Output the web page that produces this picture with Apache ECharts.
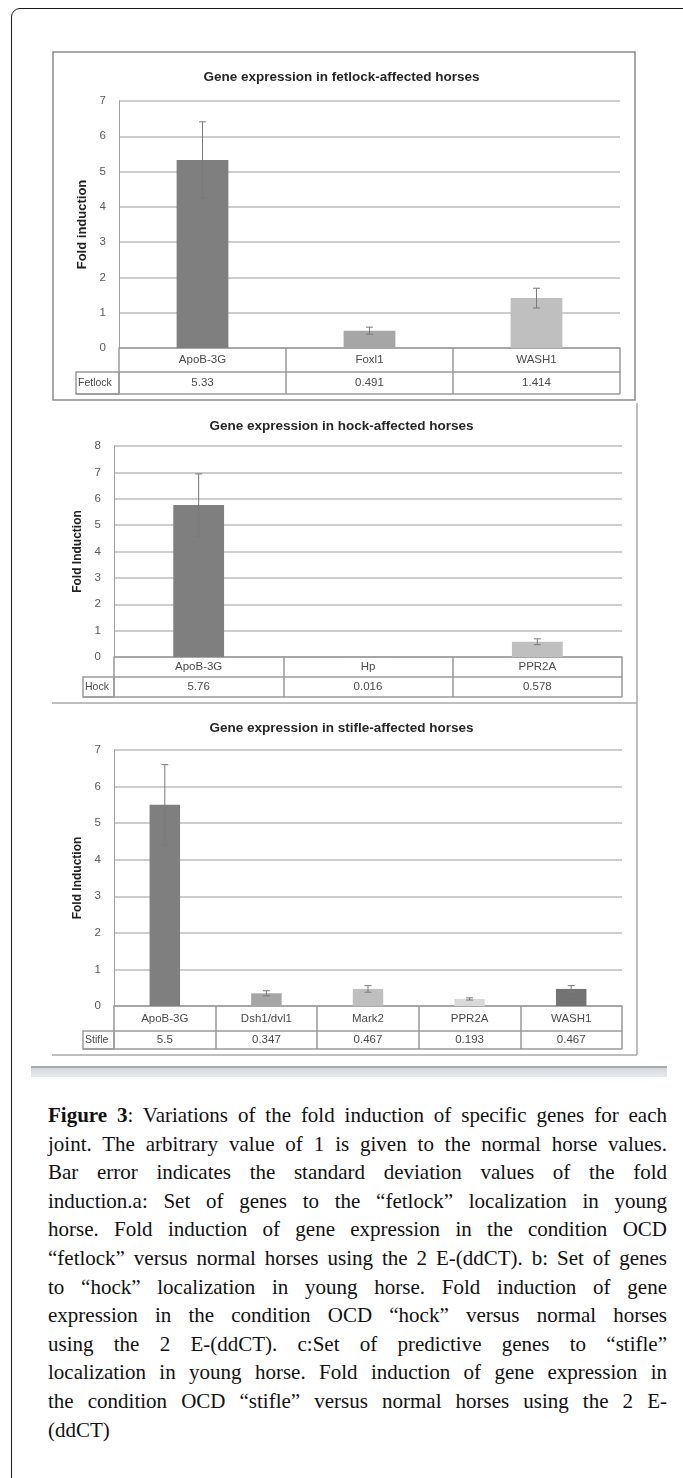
<!DOCTYPE html>
<html><head><meta charset="utf-8">
<script src="https://cdn.jsdelivr.net/npm/echarts@6/dist/echarts.min.js"></script>
<style>
html,body{margin:0;padding:0;width:683px;height:1478px;overflow:hidden;background:#fff;}
#frame{position:absolute;left:11px;top:8px;width:720px;height:1520px;border:1.5px solid #1a1a1a;border-radius:9px;box-sizing:border-box;}
#chart{position:absolute;left:0;top:0;width:683px;height:1090px;}
#sep{position:absolute;left:31px;top:1066px;width:636px;height:9px;border-top:2px solid #a9a9a9;background:linear-gradient(#d3d7dc,#e8eaed);}
#caption{position:absolute;left:48px;top:1101px;width:619px;font-family:"Liberation Serif","Times New Roman",serif;font-size:21px;line-height:28.6px;color:#111;}
#caption .l{text-align:justify;text-align-last:justify;white-space:nowrap;}
#caption .last{text-align:left;}
</style></head>
<body>
<div id="frame"></div>
<div id="chart"></div>
<div id="sep"></div>
<div id="caption">
<div class="l"><b>Figure 3</b>: Variations of the fold induction of specific genes for each</div>
<div class="l">joint. The arbitrary value of 1 is given to the normal horse values.</div>
<div class="l">Bar error indicates the standard deviation values of the fold</div>
<div class="l">induction.a: Set of genes to the “fetlock” localization in young</div>
<div class="l">horse. Fold induction of gene expression in the condition OCD</div>
<div class="l">“fetlock” versus normal horses using the 2 E-(ddCT). b: Set of genes</div>
<div class="l">to “hock” localization in young horse. Fold induction of gene</div>
<div class="l">expression in the condition OCD “hock” versus normal horses</div>
<div class="l">using the 2 E-(ddCT). c:Set of predictive genes to “stifle”</div>
<div class="l">localization in young horse. Fold induction of gene expression in</div>
<div class="l">the condition OCD “stifle” versus normal horses using the 2 E-</div>
<div class="last">(ddCT)</div>
</div>
<script>
// ---- data ----
const fetlockGenes = ['ApoB-3G', 'Foxl1', 'WASH1'];
const fetlockValues = [5.33, 0.491, 1.414];
const fetlockErrors = [1.08, 0.10, 0.28];

const hockGenes = ['ApoB-3G', 'Hp', 'PPR2A'];
const hockValues = [5.76, 0.016, 0.578];
const hockErrors = [1.18, 0, 0.11];

const stifleGenes = ['ApoB-3G', 'Dsh1/dvl1', 'Mark2', 'PPR2A', 'WASH1'];
const stifleValues = [5.5, 0.347, 0.467, 0.193, 0.467];
const stifleErrors = [1.10, 0.07, 0.09, 0.03, 0.09];

const titles = ['Gene expression in fetlock-affected horses', 'Gene expression in hock-affected horses', 'Gene expression in stifle-affected horses'];
const rowNames = ['Fetlock', 'Hock', 'Stifle'];
const yNames = ['Fold induction', 'Fold Induction', 'Fold Induction'];
const yMax = [7, 8, 7];

// ---- layout / style ----
const panels = [
  {genes: fetlockGenes, values: fetlockValues, errors: fetlockErrors,
   colors: ['#7f7f7f', '#a6a6a6', '#bfbfbf'],
   left: 119, right: 620, top: 101, bottom: 348, row1: 24, row2: 22, cellLeft: 76,
   titleTop: 65, nameGap: 30, nameSize: 13, barWidth: '31%'},
  {genes: hockGenes, values: hockValues, errors: hockErrors,
   colors: ['#7f7f7f', '#a6a6a6', '#bfbfbf'],
   left: 114, right: 622, top: 446, bottom: 657, row1: 20, row2: 20, cellLeft: 83,
   titleTop: 414, nameGap: 30, nameSize: 12, barWidth: '30%'},
  {genes: stifleGenes, values: stifleValues, errors: stifleErrors,
   colors: ['#7f7f7f', '#a6a6a6', '#bfbfbf', '#d9d9d9', '#737373'],
   left: 114, right: 622, top: 750, bottom: 1006, row1: 25, row2: 18, cellLeft: 83,
   titleTop: 716, nameGap: 30, nameSize: 12, barWidth: '30%'}
];
const FONT = '"Liberation Sans", Arial, sans-serif';
const tableColor = '#9a9a9a';

const option = {
  animation: false,
  backgroundColor: 'transparent',
  title: [], grid: [], xAxis: [], yAxis: [], series: [], graphic: []
};

panels.forEach((p, i) => {
  option.title.push({
    text: titles[i], left: 'center', top: p.titleTop,
    textStyle: {fontFamily: FONT, fontSize: 13.5, fontWeight: 'bold', color: '#262626'}
  });
  option.grid.push({left: p.left, width: p.right - p.left, top: p.top, height: p.bottom - p.top});
  option.xAxis.push({
    type: 'category', gridIndex: i, data: p.genes,
    axisLine: {show: true, lineStyle: {color: tableColor, width: 1.5}},
    axisTick: {show: true, interval: 0, length: p.row1 + p.row2, lineStyle: {color: tableColor, width: 1.5}},
    axisLabel: {interval: 0, margin: Math.round((p.row1 - 12) / 2), fontFamily: FONT, fontSize: 11.5, color: '#4a4a4a'},
    splitLine: {show: false}
  });
  option.xAxis.push({
    type: 'category', gridIndex: i, position: 'bottom', offset: p.row1,
    data: p.values.map(v => String(v)),
    axisLine: {show: true, lineStyle: {color: tableColor, width: 1.5}},
    axisTick: {show: false},
    axisLabel: {interval: 0, margin: Math.round((p.row2 - 12) / 2), fontFamily: FONT, fontSize: 11.5, color: '#4a4a4a'},
    splitLine: {show: false}
  });
  option.yAxis.push({
    type: 'value', gridIndex: i, min: 0, max: yMax[i], interval: 1,
    name: yNames[i], nameLocation: 'middle', nameGap: p.nameGap,
    nameTextStyle: {fontFamily: FONT, fontSize: p.nameSize, fontWeight: 'bold', color: '#222'},
    axisLine: {show: true, lineStyle: {color: '#a0a0a0', width: 1}},
    axisTick: {show: false},
    axisLabel: {margin: 13, fontFamily: FONT, fontSize: 11.5, color: '#595959'},
    splitLine: {show: true, lineStyle: {color: '#bdbdbd', width: 1.6}}
  });
  option.series.push({
    type: 'bar', xAxisIndex: 2 * i, yAxisIndex: i, barWidth: p.barWidth,
    data: p.values.map((v, j) => ({value: v, itemStyle: {color: p.colors[j]}})),
    z: 2
  });
  option.series.push({
    type: 'custom', xAxisIndex: 2 * i, yAxisIndex: i, z: 5,
    data: p.values.map((v, j) => [j, v, p.errors[j]]),
    encode: {x: 0, y: 1},
    renderItem: function (params, api) {
      const x = api.value(0), v = api.value(1), e = api.value(2);
      if (!e) return null;
      const t = api.coord([x, v + e]), b = api.coord([x, v - e]);
      const cw = 3.5;
      const st = {stroke: '#7a7a7a', lineWidth: 1};
      return {type: 'group', children: [
        {type: 'line', shape: {x1: t[0], y1: t[1], x2: b[0], y2: b[1]}, style: st},
        {type: 'line', shape: {x1: t[0] - cw, y1: t[1], x2: t[0] + cw, y2: t[1]}, style: st},
        {type: 'line', shape: {x1: b[0] - cw, y1: b[1], x2: b[0] + cw, y2: b[1]}, style: st}
      ]};
    }
  });
  // table: left row-name cell and bottom line of value row
  const r1b = p.bottom + p.row1, r2b = p.bottom + p.row1 + p.row2;
  option.graphic.push({
    type: 'rect', shape: {x: p.cellLeft, y: r1b, width: p.left - p.cellLeft, height: p.row2},
    style: {fill: 'none', stroke: tableColor, lineWidth: 1.5}, silent: true
  });
  option.graphic.push({
    type: 'line', shape: {x1: p.cellLeft, y1: r2b, x2: p.right, y2: r2b},
    style: {stroke: tableColor, lineWidth: 1.5}, silent: true
  });
  option.graphic.push({
    type: 'text', x: p.cellLeft + 2, y: r1b + p.row2 / 2,
    style: {text: rowNames[i], fontFamily: FONT, fontSize: 10.5, fill: '#4a4a4a', verticalAlign: 'middle', align: 'left'},
    silent: true
  });
});

// panel borders
const borderDark = '#8c8c8c', borderLight = '#a8a8a8';
option.graphic.push(
  {type: 'rect', shape: {x: 53, y: 52, width: 582, height: 348}, style: {fill: 'none', stroke: borderDark, lineWidth: 1.5}, silent: true},
  {type: 'line', shape: {x1: 637, y1: 403, x2: 637, y2: 703}, style: {stroke: borderLight, lineWidth: 1.5}, silent: true},
  {type: 'line', shape: {x1: 52, y1: 703, x2: 637, y2: 703}, style: {stroke: borderLight, lineWidth: 1.5}, silent: true},
  {type: 'line', shape: {x1: 637, y1: 703, x2: 637, y2: 1055}, style: {stroke: borderLight, lineWidth: 1.5}, silent: true},
  {type: 'line', shape: {x1: 52, y1: 1055, x2: 637, y2: 1055}, style: {stroke: borderLight, lineWidth: 1.5}, silent: true}
);

const chart = echarts.init(document.getElementById('chart'), null, {renderer: 'canvas'});
chart.setOption(option);
</script>
</body></html>
